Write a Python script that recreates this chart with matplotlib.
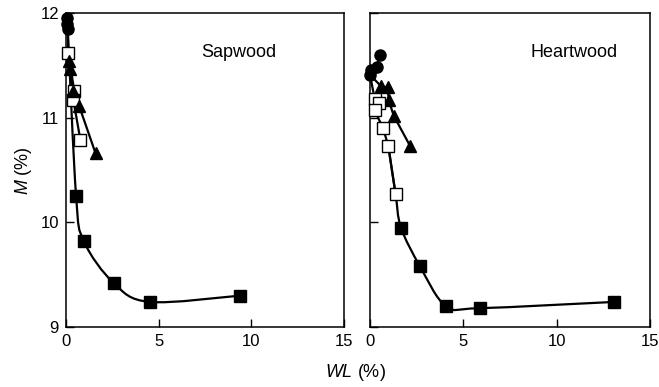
import matplotlib
matplotlib.use('Agg')
import matplotlib.pyplot as plt
from matplotlib.path import Path
from matplotlib.patches import PathPatch
import numpy as np

plt.rcParams['font.family'] = ['Liberation Sans', 'DejaVu Sans']
plt.rcParams['mathtext.fontset'] = 'custom'
plt.rcParams['mathtext.it'] = 'Liberation Sans:italic'
plt.rcParams['mathtext.rm'] = 'Liberation Sans'

# sapwood
sap_circ_x = [0.05, 0.08, 0.1]
sap_circ_y = [11.95, 11.9, 11.85]
sap_open_x = [0.12, 0.45, 0.4, 0.78]
sap_open_y = [11.62, 11.26, 11.17, 10.79]
sap_tri_x = [0.18, 0.2, 0.38, 0.72, 1.6]
sap_tri_y = [11.54, 11.47, 11.26, 11.11, 10.66]
sap_fsq_x = [0.55, 0.97, 2.58, 4.52, 9.41]
sap_fsq_y = [10.25, 9.82, 9.42, 9.24, 9.30]

# heartwood
hw_circ_x = [0.0, 0.05, 0.35, 0.55]
hw_circ_y = [11.41, 11.46, 11.49, 11.6]
hw_tri_x = [0.6, 0.95, 1.0, 1.27, 2.15]
hw_tri_y = [11.3, 11.29, 11.17, 11.02, 10.73]
hw_open_x = [0.25, 0.5, 0.25, 0.7, 0.98, 1.37]
hw_open_y = [11.18, 11.14, 11.07, 10.9, 10.73, 10.27]
hw_fsq_x = [1.66, 2.68, 4.07, 5.89, 13.1]
hw_fsq_y = [9.95, 9.58, 9.20, 9.18, 9.24]


def smooth(ax, xs, ys):
    # Catmull-Rom through the points, drawn as cubic Bezier segments
    p = np.column_stack([xs, ys]).astype(float)
    pts = np.vstack([p[0], p, p[-1]])
    verts = [tuple(p[0])]
    codes = [Path.MOVETO]
    for i in range(1, len(pts) - 2):
        c1 = pts[i] + (pts[i + 1] - pts[i - 1]) / 6
        c2 = pts[i + 1] - (pts[i + 2] - pts[i]) / 6
        verts += [tuple(c1), tuple(c2), tuple(pts[i + 1])]
        codes += [Path.CURVE4] * 3
    ax.add_patch(PathPatch(Path(verts, codes), fill=False, lw=1.6,
                           color='black', zorder=2))


fig = plt.figure(figsize=(6.59, 3.87), dpi=100)
ax1 = fig.add_axes([0.100, 0.155, 0.422, 0.811])
ax2 = fig.add_axes([0.5615, 0.155, 0.4245, 0.811])

mk = dict(color='black', lw=1.6, zorder=3)
pk = dict(clip_on=False, zorder=4, ls='none')

# sapwood panel
ax1.plot([sap_circ_x[-1]] + sap_open_x, [sap_circ_y[-1]] + sap_open_y, **mk)
ax1.plot([sap_open_x[0]] + sap_tri_x, [sap_open_y[0]] + sap_tri_y, **mk)
smooth(ax1, [sap_circ_x[-1]] + sap_fsq_x, [sap_circ_y[-1]] + sap_fsq_y)
ax1.plot(sap_circ_x, sap_circ_y, marker='o', ms=8, color='black', **pk)
ax1.plot(sap_open_x, sap_open_y, marker='s', ms=8, mfc='white', mec='black', mew=1.0, **pk)
ax1.plot(sap_tri_x, sap_tri_y, marker='^', ms=9, color='black', **pk)
ax1.plot(sap_fsq_x, sap_fsq_y, marker='s', ms=9, color='black', **pk)
ax1.text(0.62, 0.86, 'Sapwood', transform=ax1.transAxes, fontsize=13, ha='center')

# heartwood panel
ax2.plot(hw_circ_x, hw_circ_y, **mk)
ax2.plot([hw_circ_x[0]] + hw_tri_x, [hw_circ_y[0]] + hw_tri_y, **mk)
ax2.plot([hw_circ_x[0]] + hw_open_x, [hw_circ_y[0]] + hw_open_y, **mk)
smooth(ax2, hw_open_x[-2:] + hw_fsq_x, hw_open_y[-2:] + hw_fsq_y)
ax2.plot(hw_circ_x, hw_circ_y, marker='o', ms=8, color='black', **pk)
ax2.plot(hw_tri_x, hw_tri_y, marker='^', ms=9, color='black', **pk)
ax2.plot(hw_open_x, hw_open_y, marker='s', ms=8, mfc='white', mec='black', mew=1.0, **pk)
ax2.plot(hw_fsq_x, hw_fsq_y, marker='s', ms=9, color='black', **pk)
ax2.text(0.73, 0.86, 'Heartwood', transform=ax2.transAxes, fontsize=13, ha='center')

for ax in (ax1, ax2):
    ax.set_xlim(0, 15)
    ax.set_ylim(9, 12)
    ax.set_xticks([0, 5, 10, 15])
    ax.set_yticks([9, 10, 11, 12])
    ax.tick_params(direction='in', length=6, width=1, labelsize=12,
                   top=False, right=False, pad=5)
    for s in ax.spines.values():
        s.set_linewidth(1.1)
ax2.tick_params(labelleft=False)

fig.text(0.54, 0.025, r'$WL$ (%)', fontsize=13, ha='center')
fig.text(0.02, 0.56, r'$M$ (%)', fontsize=13, rotation=90, va='center')

fig.savefig('out.png', dpi=100)
